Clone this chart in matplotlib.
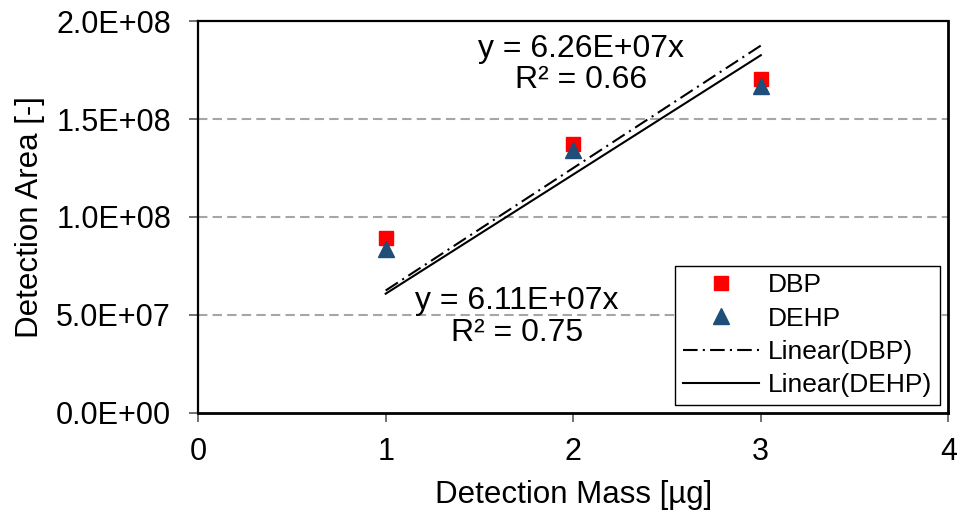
import numpy as np
import matplotlib
matplotlib.use("Agg")
import matplotlib.pyplot as plt

plt.rcParams['font.family'] = ['Liberation Sans', 'DejaVu Sans']

# data
mass = [1, 2, 3]
dbp = [8.93e7, 1.372e8, 1.704e8]
dehp = [8.35e7, 1.340e8, 1.668e8]
y_ticks = [0, 5e7, 1e8, 1.5e8, 2e8]
y_labels = ["0.0E+00", "5.0E+07", "1.0E+08", "1.5E+08", "2.0E+08"]

x = np.array(mass, dtype=float)


def fit_origin(y):
    y = np.array(y)
    k = np.sum(x * y) / np.sum(x * x)
    r2 = 1 - np.sum((y - k * x) ** 2) / np.sum((y - y.mean()) ** 2)
    return k, r2


k_dbp, r2_dbp = fit_origin(dbp)
k_dehp, r2_dehp = fit_origin(dehp)

fig = plt.figure(figsize=(9.57, 5.13), dpi=100)
ax = fig.add_axes([0.207, 0.195, 0.784, 0.764])

for v in y_ticks[1:-1]:
    ax.axhline(v, color='#a6a6a6', lw=1.5, ls=(0, (4.5, 2.5)), zorder=0)

ax.plot(x, dbp, 's', color='#ff0000', ms=10.5, label='DBP', zorder=3)
ax.plot(x, dehp, '^', color='#1f4e79', ms=12, label='DEHP', zorder=4)
ax.plot(x, k_dbp * x, color='black', lw=1.5, ls=(0, (7, 2.5, 1, 2.5)),
        label='Linear(DBP)', zorder=2)
ax.plot(x, k_dehp * x, color='black', lw=1.5, label='Linear(DEHP)', zorder=2)

ax.text(2.04, 1.778e8, "y = 6.26E+07x\nR² = 0.66", ha='center', va='center',
        fontsize=23, linespacing=1.08)
ax.text(1.70, 4.9e7, "y = 6.11E+07x\nR² = 0.75", ha='center', va='center',
        fontsize=23, linespacing=1.08)

ax.set_xlim(0, 4)
ax.set_ylim(0, 2e8)
ax.set_xticks([0, 1, 2, 3, 4])
ax.set_yticks(y_ticks)
ax.set_yticklabels(y_labels)
ax.tick_params(labelsize=22, direction='out', length=6.5, width=1.2,
               color='#595959', labelcolor='black')
ax.tick_params(axis='x', pad=10.5)
ax.tick_params(axis='y', pad=13)
for name, s in ax.spines.items():
    s.set_linewidth(2.0 if name in ('bottom', 'right') else 1.6)

ax.set_xlabel("Detection Mass [µg]", fontsize=22.5, labelpad=10)
ax.set_ylabel("Detection Area [-]", fontsize=22.5, labelpad=8)

leg = ax.legend(loc='lower right', fontsize=19, frameon=True, fancybox=False,
                edgecolor='black', framealpha=1, borderaxespad=0.3,
                handlelength=2.9, labelspacing=0.35, handletextpad=0.35,
                borderpad=0.3)
leg.get_frame().set_linewidth(1.0)

plt.savefig('out.png', dpi=100)
